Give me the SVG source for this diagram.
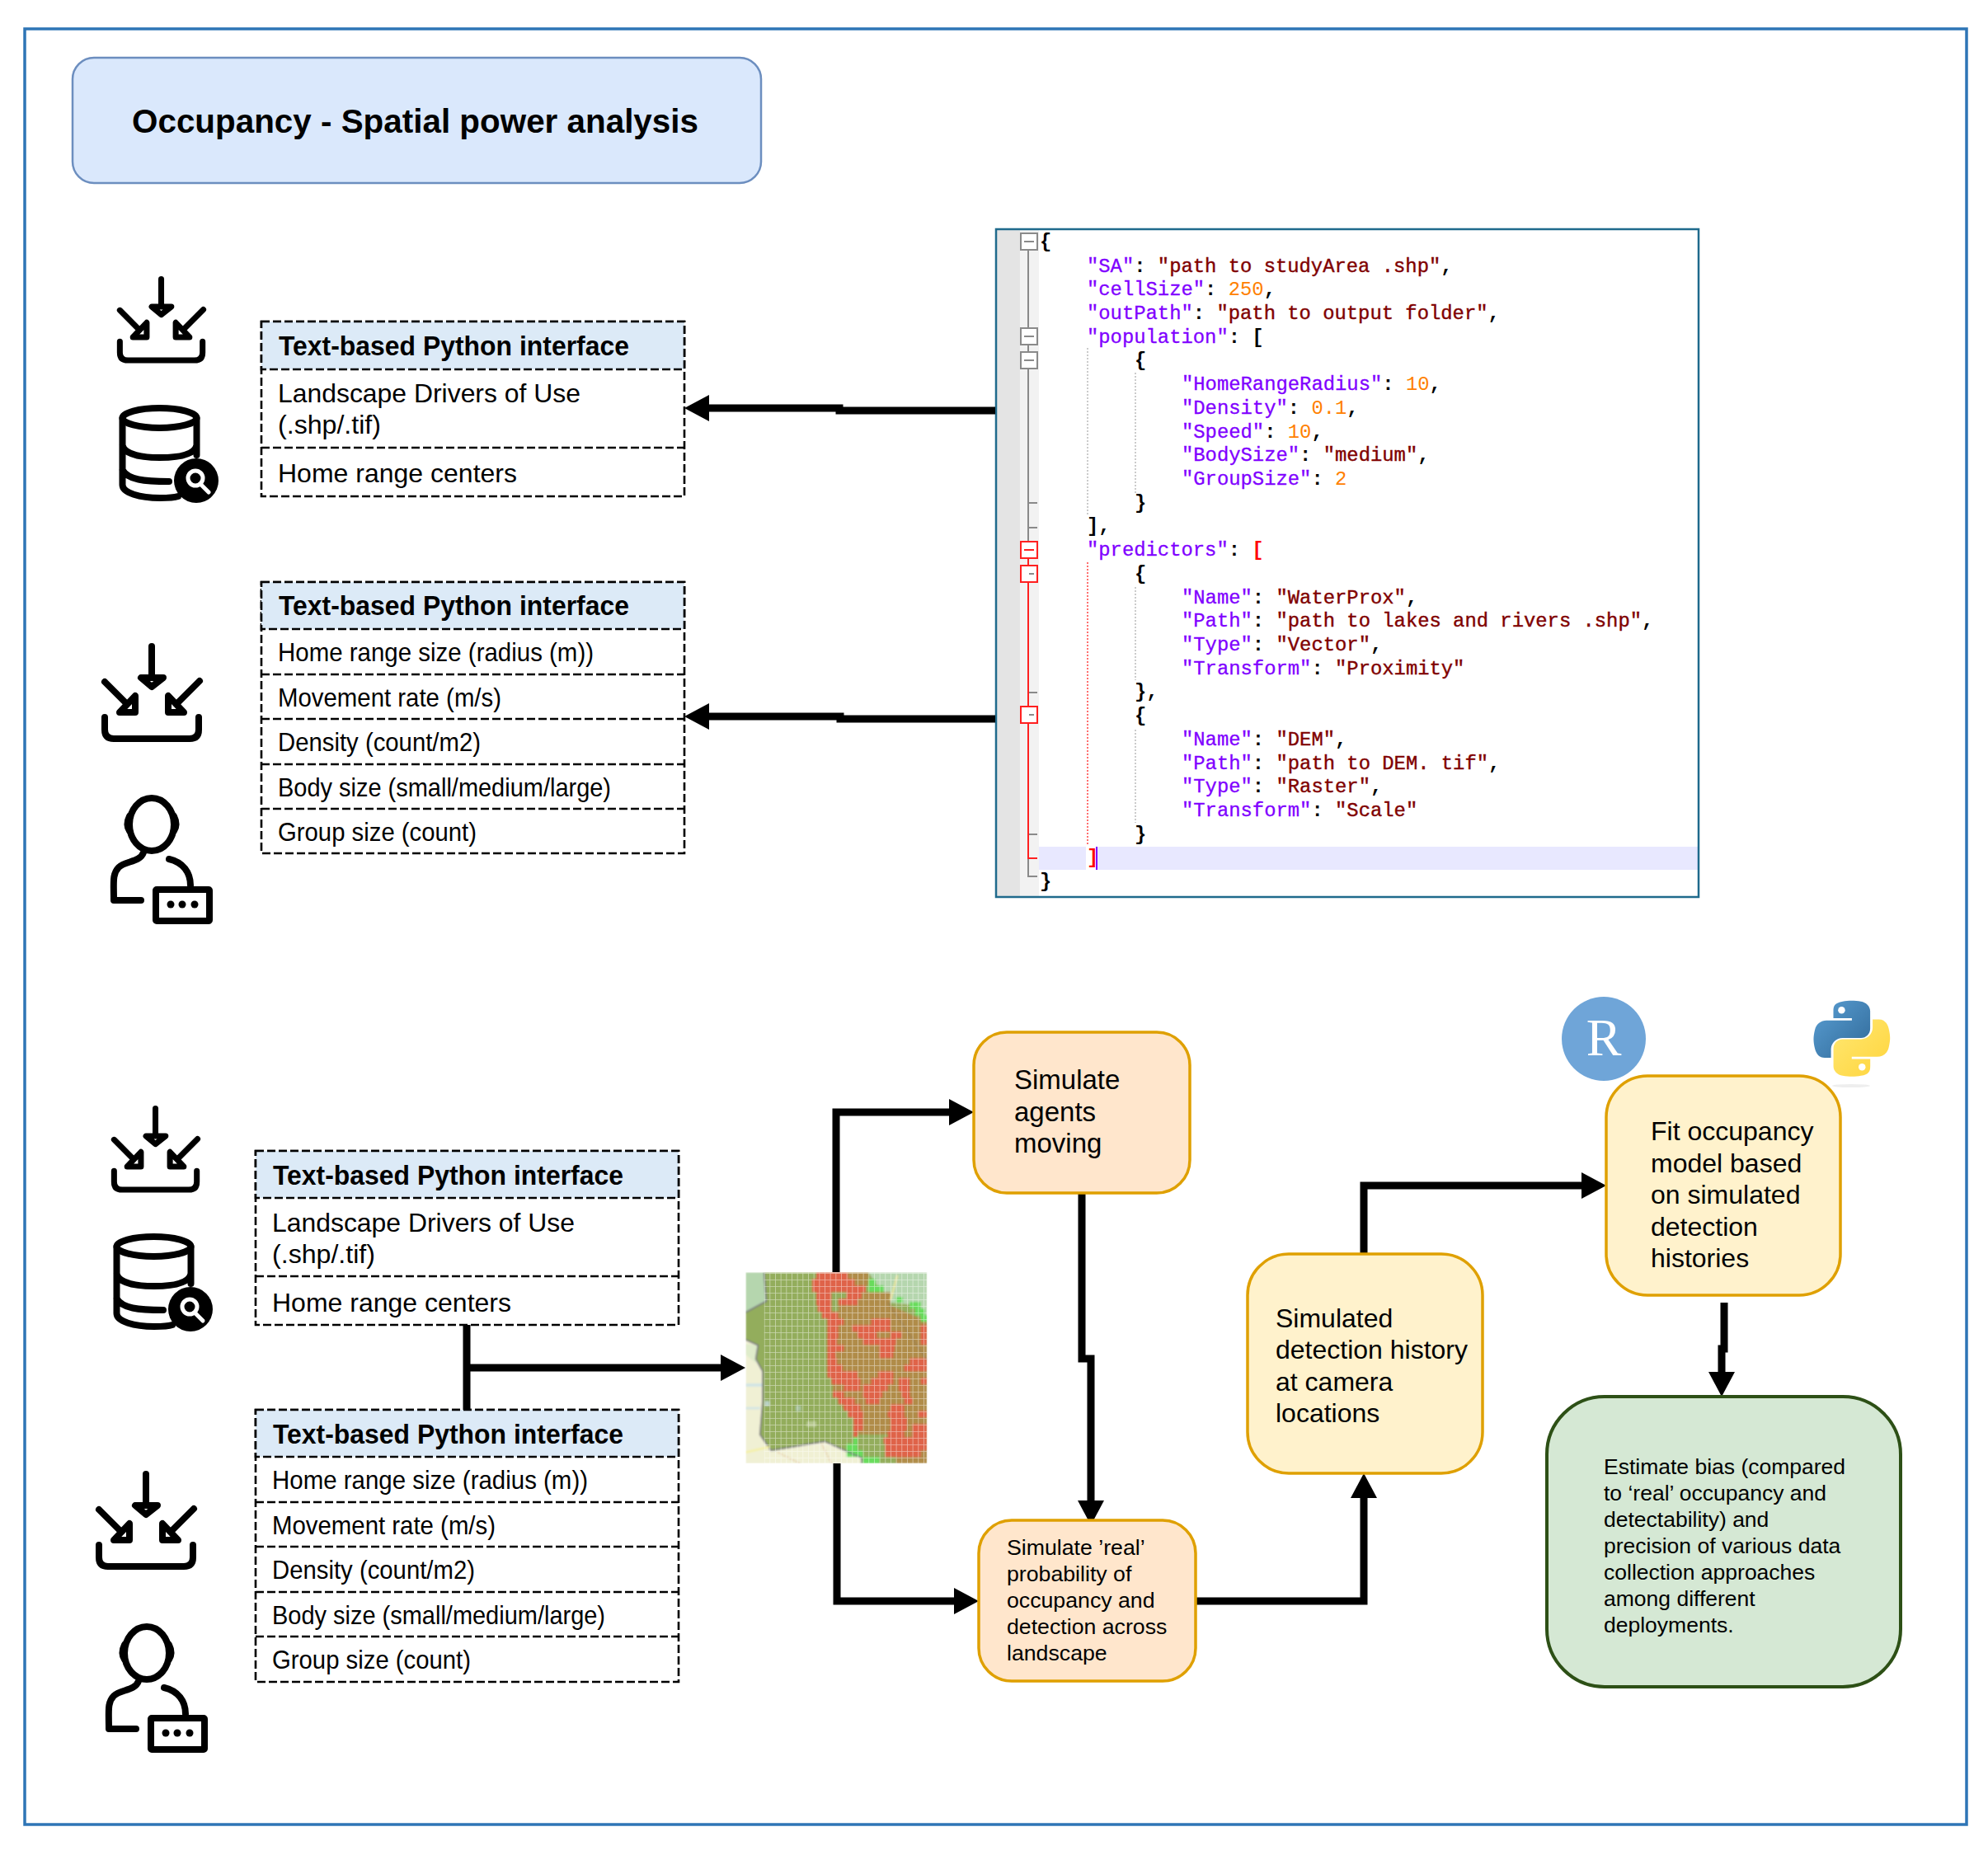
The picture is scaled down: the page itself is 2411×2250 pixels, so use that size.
<svg xmlns="http://www.w3.org/2000/svg" width="2411" height="2250" viewBox="0 0 2411 2250">
<style>
text{font-family:"Liberation Sans",Arial,sans-serif;fill:#000}
.b{font-size:31.5px}
.h{font-size:32.5px;font-weight:700}
.tb{fill:#fff;stroke:#000;stroke-width:2.6;stroke-dasharray:10 4}
.hd{fill:#dceaf7;stroke:#000;stroke-width:2.6;stroke-dasharray:10 4}
.dv{fill:none;stroke:#000;stroke-width:2.6;stroke-dasharray:10 4}
.conn{fill:none;stroke:#000;stroke-width:9;marker-end:url(#ah)}
.lnk{fill:none;stroke:#000;stroke-width:9}
.ic{fill:none;stroke:#000;stroke-width:8;stroke-linecap:round;stroke-linejoin:round}
.t3{font-size:32px}
.t2{font-size:26.7px}
.or{fill:#ffe6cc;stroke:#dfa000;stroke-width:3.5}
.ye{fill:#fff2cc;stroke:#dfa000;stroke-width:3.5}
.code text{font-family:"Liberation Mono","Courier New",monospace;font-size:23.85px}
.k{fill:#8000ff;stroke:#8000ff;stroke-width:.3}.s{fill:#800000;stroke:#800000;stroke-width:.4}.n{fill:#ff8000}.p{fill:#000;font-weight:700}.r{fill:#ff0000;font-weight:700}
.fold{fill:#fff;stroke:#8a8a8a;stroke-width:2}
.foldr{fill:#fff;stroke:#ff2020;stroke-width:2}
</style>
<defs>
<marker id="ah" markerUnits="userSpaceOnUse" markerWidth="30" markerHeight="32" refX="0" refY="16" orient="auto"><path d="M0,0L30,16L0,32Z" fill="#000"/></marker>
<g id="imp" class="ic">
<path d="M184,784V818"/><path d="M171,822H198L184,833Z" fill="#fff"/>
<path d="M127,827L158,858"/><path d="M164,844V864H145Z" fill="#fff"/>
<path d="M242,826L210,858"/><path d="M204,844V864H223Z" fill="#fff"/>
<path d="M127,870V885Q127,896 138,896H230Q241,896 241,885V870"/>
</g>
<g id="usr" class="ic">
<ellipse cx="184" cy="1000" rx="27" ry="32"/>
<path d="M157,990Q152,1000 157,1008M211,990Q216,1000 211,1008"/>
<path d="M174,1034C170,1046 152,1044 144,1052C136,1060 138,1070 138,1092H171M205,1042C222,1046 231,1058 231,1074"/>
<rect x="189" y="1079" width="65" height="38" rx="1"/>
<circle cx="207" cy="1097" r="4.5" fill="#000" stroke="none"/><circle cx="221" cy="1097" r="4.5" fill="#000" stroke="none"/><circle cx="236" cy="1097" r="4.5" fill="#000" stroke="none"/>
</g>
<g id="dbi">
<g class="ic" stroke-linecap="butt">
<ellipse cx="193.5" cy="507" rx="45" ry="12"/>
<path d="M238.5,507V552M148.5,507V588C148.5,598 170,604 194,604C202,604 210,604 216,602M148.5,540C151,552 175,555 194,555C215,555 236,552 238.5,540M148.5,570C155,582 175,584 205,584"/>
</g>
<circle cx="238" cy="583" r="27" fill="#000"/>
<circle cx="237" cy="580" r="9" fill="none" stroke="#fff" stroke-width="5"/>
<path d="M243,587L253,597" stroke="#fff" stroke-width="5" stroke-linecap="round"/>
</g>
<pattern id="grd" width="20" height="24" patternUnits="userSpaceOnUse"><path d="M0,0H20M0,0V24" stroke="#fff" stroke-width="5" opacity=".5" fill="none"/></pattern>
<filter id="bl" x="0" y="0" width="1" height="1"><feGaussianBlur stdDeviation="2.5"/></filter>
<clipPath id="mc"><rect x="73" y="70" width="660" height="695"/></clipPath>
<linearGradient id="py1" x1="0" y1="0" x2="1" y2="1"><stop offset="0" stop-color="#5a9fd4"/><stop offset="1" stop-color="#306998"/></linearGradient>
<linearGradient id="py2" x1="0" y1="0" x2="1" y2="1"><stop offset="0" stop-color="#ffe873"/><stop offset="1" stop-color="#ffd43b"/></linearGradient>
</defs>

<rect id="frame" x="30" y="35" width="2355" height="2178" fill="#fff" stroke="#2e75b6" stroke-width="3.5"/>

<g id="title"><rect x="88" y="70" width="835" height="152" rx="26" fill="#dae8fc" stroke="#6c8ebf" stroke-width="2.5"/>
<text x="160" y="161" font-size="40.5" font-weight="700" textLength="687" lengthAdjust="spacingAndGlyphs">Occupancy - Spatial power analysis</text></g>

<g id="icons-top">
<use href="#imp" transform="translate(33.6,-351.4) scale(.88)"/>
<use href="#dbi"/>
<use href="#imp"/>
<use href="#usr"/>
</g>
<g id="icons-bottom">
<use href="#imp" transform="translate(26.6,654.6) scale(.88)"/>
<use href="#dbi" transform="translate(-7,1005)"/>
<use href="#imp" transform="translate(-7,1004)"/>
<use href="#usr" transform="translate(-6,1005)"/>
</g>

<g id="table-1">
<rect class="tb" x="317" y="390" width="513" height="212"/>
<rect class="hd" x="317" y="390" width="513" height="58"/>
<path class="dv" d="M317,543H830"/>
<text class="h" x="338" y="431" textLength="425" lengthAdjust="spacingAndGlyphs">Text-based Python interface</text>
<text class="b" x="337" y="488" textLength="367" lengthAdjust="spacingAndGlyphs">Landscape Drivers of Use</text>
<text class="b" x="337" y="526" textLength="125" lengthAdjust="spacingAndGlyphs">(.shp/.tif)</text>
<text class="b" x="337" y="585" textLength="290" lengthAdjust="spacingAndGlyphs">Home range centers</text>
</g>
<g id="table-2">
<rect class="tb" x="317" y="706" width="513" height="329"/>
<rect class="hd" x="317" y="706" width="513" height="57"/>
<path class="dv" d="M317,818H830M317,872H830M317,927H830M317,981H830"/>
<text class="h" x="338" y="746" textLength="425" lengthAdjust="spacingAndGlyphs">Text-based Python interface</text>
<text class="b" x="337" y="802" textLength="383" lengthAdjust="spacingAndGlyphs">Home range size (radius (m))</text>
<text class="b" x="337" y="857" textLength="271" lengthAdjust="spacingAndGlyphs">Movement rate (m/s)</text>
<text class="b" x="337" y="911" textLength="246" lengthAdjust="spacingAndGlyphs">Density (count/m2)</text>
<text class="b" x="337" y="966" textLength="404" lengthAdjust="spacingAndGlyphs">Body size (small/medium/large)</text>
<text class="b" x="337" y="1020" textLength="241" lengthAdjust="spacingAndGlyphs">Group size (count)</text>
</g>
<g id="table-3">
<rect class="tb" x="310" y="1396" width="513" height="211"/>
<rect class="hd" x="310" y="1396" width="513" height="57"/>
<path class="dv" d="M310,1548H823"/>
<text class="h" x="331" y="1437" textLength="425" lengthAdjust="spacingAndGlyphs">Text-based Python interface</text>
<text class="b" x="330" y="1494" textLength="367" lengthAdjust="spacingAndGlyphs">Landscape Drivers of Use</text>
<text class="b" x="330" y="1532" textLength="125" lengthAdjust="spacingAndGlyphs">(.shp/.tif)</text>
<text class="b" x="330" y="1591" textLength="290" lengthAdjust="spacingAndGlyphs">Home range centers</text>
</g>
<g id="table-4">
<rect class="tb" x="310" y="1710" width="513" height="330"/>
<rect class="hd" x="310" y="1710" width="513" height="57"/>
<path class="dv" d="M310,1822H823M310,1876H823M310,1931H823M310,1985H823"/>
<text class="h" x="331" y="1751" textLength="425" lengthAdjust="spacingAndGlyphs">Text-based Python interface</text>
<text class="b" x="330" y="1806" textLength="383" lengthAdjust="spacingAndGlyphs">Home range size (radius (m))</text>
<text class="b" x="330" y="1861" textLength="271" lengthAdjust="spacingAndGlyphs">Movement rate (m/s)</text>
<text class="b" x="330" y="1915" textLength="246" lengthAdjust="spacingAndGlyphs">Density (count/m2)</text>
<text class="b" x="330" y="1970" textLength="404" lengthAdjust="spacingAndGlyphs">Body size (small/medium/large)</text>
<text class="b" x="330" y="2024" textLength="241" lengthAdjust="spacingAndGlyphs">Group size (count)</text>
</g>

<g id="code-panel" class="code">
<rect x="1208" y="278" width="852" height="810" fill="#fff"/>
<rect x="1208" y="278" width="29" height="810" fill="#e4e4e4"/>
<rect x="1237" y="278" width="23" height="810" fill="#f2f2f2"/>
<rect x="1260" y="1027" width="800" height="28" fill="#e8e8ff"/>
<rect x="1317" y="1027" width="13" height="28" fill="#fff"/>
<path d="M1330,1027V1055" stroke="#8000ff" stroke-width="2"/>
<path d="M1247,303V1063H1258M1247,610H1258M1247,640H1258" fill="none" stroke="#8a8a8a" stroke-width="2"/>
<path d="M1247,840H1258M1247,1012H1258" stroke="#8a8a8a" stroke-width="2"/>
<path d="M1247,677V1041H1258" fill="none" stroke="#ff2020" stroke-width="2"/>
<path d="M1319,422V625M1377,452V600M1377,712V825M1377,885V998" stroke="#bbb" stroke-width="1.5" stroke-dasharray="2 2"/>
<path d="M1319,682V1025" stroke="#ff4040" stroke-width="1.5" stroke-dasharray="2 2"/>
<rect class="fold" x="1238" y="283" width="20" height="20"/><path d="M1242,293H1254" stroke="#8a8a8a" stroke-width="2"/>
<rect class="fold" x="1238" y="398" width="20" height="20"/><path d="M1242,408H1254" stroke="#8a8a8a" stroke-width="2"/>
<rect class="fold" x="1238" y="427" width="20" height="20"/><path d="M1242,437H1254" stroke="#8a8a8a" stroke-width="2"/>
<rect class="foldr" x="1238" y="657" width="20" height="20"/><path d="M1242,667H1254" stroke="#ff2020" stroke-width="2"/>
<rect class="foldr" x="1238" y="686" width="20" height="20"/><path d="M1248,696H1254" stroke="#8a8a8a" stroke-width="2"/>
<rect class="foldr" x="1238" y="857" width="20" height="20"/><path d="M1248,867H1254" stroke="#8a8a8a" stroke-width="2"/>
<text x="1261" y="300" class="p">{</text>
<text x="1318" y="330"><tspan class="k">"SA"</tspan><tspan class="p">: </tspan><tspan class="s">"path to studyArea .shp"</tspan><tspan class="p">,</tspan></text>
<text x="1318" y="358"><tspan class="k">"cellSize"</tspan><tspan class="p">: </tspan><tspan class="n">250</tspan><tspan class="p">,</tspan></text>
<text x="1318" y="387"><tspan class="k">"outPath"</tspan><tspan class="p">: </tspan><tspan class="s">"path to output folder"</tspan><tspan class="p">,</tspan></text>
<text x="1318" y="416"><tspan class="k">"population"</tspan><tspan class="p">: [</tspan></text>
<text x="1376" y="444" class="p">{</text>
<text x="1433" y="473"><tspan class="k">"HomeRangeRadius"</tspan><tspan class="p">: </tspan><tspan class="n">10</tspan><tspan class="p">,</tspan></text>
<text x="1433" y="502"><tspan class="k">"Density"</tspan><tspan class="p">: </tspan><tspan class="n">0.1</tspan><tspan class="p">,</tspan></text>
<text x="1433" y="531"><tspan class="k">"Speed"</tspan><tspan class="p">: </tspan><tspan class="n">10</tspan><tspan class="p">,</tspan></text>
<text x="1433" y="559"><tspan class="k">"BodySize"</tspan><tspan class="p">: </tspan><tspan class="s">"medium"</tspan><tspan class="p">,</tspan></text>
<text x="1433" y="588"><tspan class="k">"GroupSize"</tspan><tspan class="p">: </tspan><tspan class="n">2</tspan></text>
<text x="1376" y="617" class="p">}</text>
<text x="1318" y="645" class="p">],</text>
<text x="1318" y="674"><tspan class="k">"predictors"</tspan><tspan class="p">: </tspan><tspan class="r">[</tspan></text>
<text x="1376" y="703" class="p">{</text>
<text x="1433" y="732"><tspan class="k">"Name"</tspan><tspan class="p">: </tspan><tspan class="s">"WaterProx"</tspan><tspan class="p">,</tspan></text>
<text x="1433" y="760"><tspan class="k">"Path"</tspan><tspan class="p">: </tspan><tspan class="s">"path to lakes and rivers .shp"</tspan><tspan class="p">,</tspan></text>
<text x="1433" y="789"><tspan class="k">"Type"</tspan><tspan class="p">: </tspan><tspan class="s">"Vector"</tspan><tspan class="p">,</tspan></text>
<text x="1433" y="818"><tspan class="k">"Transform"</tspan><tspan class="p">: </tspan><tspan class="s">"Proximity"</tspan></text>
<text x="1376" y="846" class="p">},</text>
<text x="1376" y="875" class="p">{</text>
<text x="1433" y="904"><tspan class="k">"Name"</tspan><tspan class="p">: </tspan><tspan class="s">"DEM"</tspan><tspan class="p">,</tspan></text>
<text x="1433" y="933"><tspan class="k">"Path"</tspan><tspan class="p">: </tspan><tspan class="s">"path to DEM. tif"</tspan><tspan class="p">,</tspan></text>
<text x="1433" y="961"><tspan class="k">"Type"</tspan><tspan class="p">: </tspan><tspan class="s">"Raster"</tspan><tspan class="p">,</tspan></text>
<text x="1433" y="990"><tspan class="k">"Transform"</tspan><tspan class="p">: </tspan><tspan class="s">"Scale"</tspan></text>
<text x="1376" y="1019" class="p">}</text>
<text x="1318" y="1047" class="r">]</text>
<text x="1261" y="1076" class="p">}</text>
<rect x="1208" y="278" width="852" height="810" fill="none" stroke="#1f6a8c" stroke-width="2.5"/>
</g>

<g id="map" transform="translate(880,1520) scale(.3333)">
<g clip-path="url(#mc)"><g filter="url(#bl)">
<rect x="73" y="70" width="660" height="695" fill="#f0f0d4"/>
<path d="M73,70H140L148,175L73,215Z" fill="#b5d6ae"/>
<path d="M520,70H733V250L700,190L600,180L560,130Z" fill="#b5d6ae"/>
<path d="M73,330L118,335L110,400L73,370Z" fill="#dfeccb"/>
<path d="M73,475H135V485H73ZM73,560H125V568H73Z" fill="#cfe3e6"/>
<path d="M140,70H520L560,130L600,180L700,190L733,250V765H500L495,745L360,685L170,720L125,660L135,540L135,430L110,385L118,335L73,315V215L148,175Z" fill="#93ad5c"/>
<path d="M445,142H600V190L733,250V765H620V660H480V570H430L390,500V240H445Z" fill="#b08c4a"/>
<path d="M445,70h75v24h-75zM470,94h50v24h-50zM495,142h80v24h-80zM540,166h60v24h-60zM410,190h190v24h-190zM410,214h190v24h-190zM445,238h85v24h-85zM600,238h110v24h-110zM600,262h110v24h-110zM410,286h40v24h-40zM550,286h50v24h-50zM640,286h70v24h-70zM405,310h95v24h-95zM620,310h80v24h-80z" fill="#b08c4a"/>
<path d="M330,70h115v24h-115zM315,94h155v24h-155zM315,118h195v24h-195zM330,142h55v24h-55zM440,142h55v24h-55zM330,166h55v24h-55zM410,166h70v24h-70zM335,190h50v24h-50zM350,214h60v24h-60zM370,238h60v24h-60zM530,238h70v24h-70zM370,262h40v24h-40zM460,262h140v24h-140zM710,262h23v24h-23zM370,286h40v24h-40zM480,286h70v24h-70zM600,286h40v24h-40zM710,286h23v24h-23zM370,310h35v24h-35zM500,310h120v24h-120zM710,310h23v24h-23zM370,334h60v24h-60zM560,334h55v24h-55zM370,358h30v24h-30zM560,358h50v24h-50zM370,382h35v24h-35zM670,382h63v24h-63zM370,406h55v24h-55zM650,406h83v24h-83zM370,430h110v24h-110zM555,430h55v24h-55zM385,454h105v24h-105zM530,454h80v24h-80zM630,454h40v24h-40zM710,454h23v24h-23zM430,478h60v24h-60zM500,478h90v24h-90zM630,478h40v24h-40zM390,502h40v24h-40zM500,502h70v24h-70zM640,502h30v24h-30zM410,526h60v24h-60zM510,526h50v24h-50zM650,526h30v24h-30zM430,550h60v24h-60zM600,550h50v24h-50zM445,574h55v24h-55zM590,574h60v24h-60zM700,574h33v24h-33zM465,598h35v24h-35zM600,598h60v24h-60zM465,622h35v24h-35zM600,622h60v24h-60zM680,622h53v24h-53zM465,646h15v24h-15zM590,646h60v24h-60zM680,646h53v24h-53zM575,670h158v24h-158zM580,694h153v24h-153zM580,718h130v24h-130z" fill="#df6449"/>
<path d="M520,94h25v24h-25zM520,118h55v24h-55zM670,178h40v24h-40zM690,202h35v24h-35zM710,226h23v24h-23zM465,670h15v24h-15zM440,694h40v24h-40zM440,718h60v24h-60zM500,742h60v23h-60zM620,160h25v20h-25z" fill="#68dc5c"/>
<path d="M600,170L625,80" stroke="#f2e89a" stroke-width="6" fill="none"/>
<path d="M140,70L148,175L73,215M73,315L118,335L110,385L135,430L135,540L125,660L165,718L360,685L495,745L495,765" fill="none" stroke="#77757f" stroke-width="5"/>
<path d="M590,180L733,390" fill="none" stroke="#8c7a58" stroke-width="3"/>
<path d="M73,725L160,705" stroke="#f5f0a0" stroke-width="7"/>
<path d="M350,695L385,765M190,725L270,765" stroke="#d8a070" stroke-width="3" stroke-dasharray="7 5"/>
<rect x="142" y="538" width="18" height="18" fill="#b9d3c8"/><rect x="295" y="612" width="35" height="20" fill="#b6c88e"/><rect x="255" y="555" width="20" height="20" fill="#a7c29c"/>
</g>
<rect x="140" y="70" width="593" height="695" fill="url(#grd)"/>
</g></g>

<g id="connectors">
<path class="conn" d="M1207,498H1018V495H860"/>
<path class="conn" d="M1207,872H1019V869H860"/>
<path class="lnk" d="M566,1607V1710"/>
<path class="conn" d="M566,1659H874"/>
<path class="conn" d="M1014,1543V1349H1151"/>
<path class="conn" d="M1015,1775V1942H1157"/>
<path class="conn" d="M1312,1447V1648H1323V1820"/>
<path class="conn" d="M1450,1942H1654V1817"/>
<path class="conn" d="M1654,1521V1438H1918"/>
<path class="conn" d="M2091,1580V1636H2088V1664"/>
</g>

<g id="box-agents"><rect class="or" x="1181" y="1252" width="262" height="195" rx="40"/>
<text class="t3" x="1230" y="1321" style="font-size:33px">Simulate</text><text class="t3" x="1230" y="1360" style="font-size:33px">agents</text><text class="t3" x="1230" y="1398" style="font-size:33px">moving</text></g>
<g id="box-real"><rect class="or" x="1187" y="1844" width="263" height="195" rx="40"/>
<text class="t2" x="1221" y="1886">Simulate ’real’</text><text class="t2" x="1221" y="1918">probability of</text><text class="t2" x="1221" y="1950">occupancy and</text><text class="t2" x="1221" y="1982">detection across</text><text class="t2" x="1221" y="2014">landscape</text></g>
<g id="box-history"><rect class="ye" x="1513" y="1521" width="285" height="266" rx="50"/>
<text class="t3" x="1547" y="1610">Simulated</text><text class="t3" x="1547" y="1648">detection history</text><text class="t3" x="1547" y="1687">at camera</text><text class="t3" x="1547" y="1725">locations</text></g>
<g id="box-fit"><rect class="ye" x="1948" y="1305" width="284" height="266" rx="50"/>
<text class="t3" x="2002" y="1383">Fit occupancy</text><text class="t3" x="2002" y="1422">model based</text><text class="t3" x="2002" y="1460">on simulated</text><text class="t3" x="2002" y="1499">detection</text><text class="t3" x="2002" y="1537">histories</text></g>
<g id="box-bias"><rect x="1876" y="1694" width="429" height="352" rx="70" fill="#d5e8d4" stroke="#2d5016" stroke-width="4"/>
<text class="t2" x="1945" y="1788" style="font-size:26.5px">Estimate bias (compared</text><text class="t2" x="1945" y="1820" style="font-size:26.5px">to ‘real’ occupancy and</text><text class="t2" x="1945" y="1852" style="font-size:26.5px">detectability) and</text><text class="t2" x="1945" y="1884" style="font-size:26.5px">precision of various data</text><text class="t2" x="1945" y="1916" style="font-size:26.5px">collection approaches</text><text class="t2" x="1945" y="1948" style="font-size:26.5px">among different</text><text class="t2" x="1945" y="1980" style="font-size:26.5px">deployments.</text></g>

<g id="logo-r"><circle cx="1945" cy="1260" r="51" fill="#6fa5d8"/>
<text x="1945" y="1280" font-size="64" text-anchor="middle" style="font-family:'Liberation Serif',serif;fill:#fff">R</text></g>
<g id="logo-python" transform="translate(2199,1213) scale(.85)">
<path d="M54.9,.9C50.3,.9 45.9,1.3 42.1,2C30.8,4 28.8,8.1 28.8,15.7V25.8H55.2V29.2H18.9C11.2,29.2 4.5,33.8 2.4,42.5C0,52.5 -.1,58.7 2.4,69.1C4.3,76.9 8.7,82.4 16.4,82.4H25.4V70.5C25.4,61.8 32.9,54.2 41.8,54.2H68.2C75.5,54.2 81.3,48.2 81.3,40.9V15.7C81.3,8.6 75.3,3.2 68.2,2C63.7,1.3 59,.9 54.9,.9Z" fill="url(#py1)"/>
<circle cx="40.5" cy="14.5" r="5" fill="#fff"/>
<path d="M55.3,109.1C59.9,109.1 64.3,108.7 68.1,108C79.4,106 81.4,101.9 81.4,94.3V84.2H55V80.8H91.3C99,80.8 105.7,76.2 107.8,67.5C110.2,57.5 110.3,51.3 107.8,40.9C105.9,33.1 101.5,27.6 93.8,27.6H84.8V39.5C84.8,48.2 77.3,55.8 68.4,55.8H42C34.7,55.8 28.9,61.8 28.9,69.1V94.3C28.9,101.4 34.9,106.8 42,108C46.5,108.7 51.2,109.1 55.3,109.1Z" fill="url(#py2)"/>
<circle cx="69.7" cy="95.5" r="5" fill="#fff"/>
</g>
<ellipse id="python-shadow" cx="2245" cy="1317" rx="23" ry="2" fill="#eee"/>
</svg>
